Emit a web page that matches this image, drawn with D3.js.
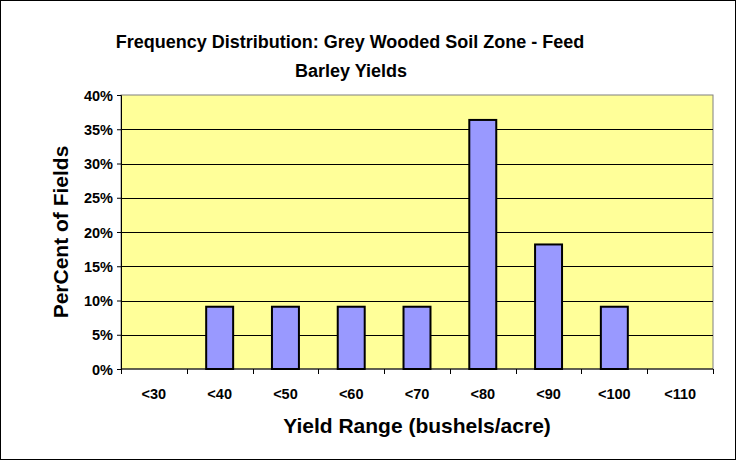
<!DOCTYPE html>
<html>
<head>
<meta charset="utf-8">
<script src="https://cdn.jsdelivr.net/npm/d3@7"></script>
<style>
  body { margin: 0; background: #fff; }
  text { font-family: Arial, "Liberation Sans", sans-serif; font-weight: bold; }
</style>
</head>
<body>
<script>
// chart data
const categories = ['<30', '<40', '<50', '<60', '<70', '<80', '<90', '<100', '<110'];
const percents = [0, 0.0909, 0.0909, 0.0909, 0.0909, 0.3636, 0.1818, 0.0909, 0];
const yTicks = [0, 0.05, 0.10, 0.15, 0.20, 0.25, 0.30, 0.35, 0.40];

const svgWidth = 736;
const svgHeight = 460;
const margin = {top: 95, right: 23, bottom: 91, left: 121};
const plotWidth = svgWidth - margin.left - margin.right;
const plotHeight = svgHeight - margin.top - margin.bottom;

const svg = d3.select('body')
              .append('svg')
              .attr('width', svgWidth)
              .attr('height', svgHeight);

// outer border
svg.append('rect')
   .attr('x', 0.5).attr('y', 0.5)
   .attr('width', svgWidth - 1).attr('height', svgHeight - 1)
   .attr('fill', 'white').attr('stroke', 'black');

const inner = svg.append('g')
                 .attr('transform', 'translate(' + margin.left + ',' + margin.top + ')');

// plot background
inner.append('rect')
     .attr('width', plotWidth)
     .attr('height', plotHeight)
     .attr('fill', '#FFFF99')
     .attr('stroke', '#808080');

const xScale = d3.scaleBand()
                 .domain(categories)
                 .range([0, plotWidth])
                 .paddingInner(0.59)
                 .paddingOuter(0.295);

const yScale = d3.scaleLinear()
                 .domain([0, 0.4])
                 .range([plotHeight, 0]);

// gridlines
inner.selectAll('line.grid')
     .data(yTicks.slice(1, -1))
     .enter()
     .append('line')
     .attr('class', 'grid')
     .attr('x1', 0).attr('x2', plotWidth)
     .attr('y1', d => Math.round(yScale(d)) + 0.5)
     .attr('y2', d => Math.round(yScale(d)) + 0.5)
     .attr('stroke', 'black');

// bars
inner.selectAll('rect.bar')
     .data(categories.map((c, i) => ({cat: c, val: percents[i]})).filter(d => d.val > 0))
     .enter()
     .append('rect')
     .attr('class', 'bar')
     .attr('x', d => xScale(d.cat))
     .attr('y', d => yScale(d.val))
     .attr('width', xScale.bandwidth())
     .attr('height', d => plotHeight - yScale(d.val))
     .attr('fill', '#9999FF')
     .attr('stroke', 'black')
     .attr('stroke-width', 2);

// y axis
const yAxis = d3.axisLeft(yScale)
                .tickValues(yTicks)
                .tickFormat(d3.format('.0%'))
                .tickSize(4)
                .tickPadding(4);
const yG = inner.append('g').call(yAxis);
yG.attr('font-size', 14.5).attr('font-family', null);
yG.select('.domain').attr('stroke', 'black');
yG.selectAll('text').attr('fill', 'black').attr('dy', '0.36em');

// x axis with ticks at category boundaries
const xG = inner.append('g')
                .attr('transform', 'translate(0,' + plotHeight + ')');
xG.append('line')
  .attr('x1', 0).attr('x2', plotWidth)
  .attr('stroke', 'black');
xG.selectAll('line.tick')
  .data(d3.range(categories.length + 1))
  .enter()
  .append('line')
  .attr('class', 'tick')
  .attr('x1', i => Math.round(i * xScale.step()) + 0.5)
  .attr('x2', i => Math.round(i * xScale.step()) + 0.5)
  .attr('y1', 0).attr('y2', 5)
  .attr('stroke', 'black');
xG.selectAll('text')
  .data(categories)
  .enter()
  .append('text')
  .attr('x', d => xScale(d) + xScale.bandwidth() / 2)
  .attr('y', 30)
  .attr('text-anchor', 'middle')
  .attr('font-size', 14.5)
  .text(d => d);

// title
svg.append('text')
   .attr('x', 350).attr('y', 48)
   .attr('text-anchor', 'middle')
   .attr('font-size', 18)
   .text('Frequency Distribution: Grey Wooded Soil Zone - Feed');
svg.append('text')
   .attr('x', 351).attr('y', 77)
   .attr('text-anchor', 'middle')
   .attr('font-size', 18)
   .text('Barley Yields');

// axis titles
svg.append('text')
   .attr('x', margin.left + plotWidth / 2).attr('y', 433)
   .attr('text-anchor', 'middle')
   .attr('font-size', 21)
   .text('Yield Range (bushels/acre)');
svg.append('text')
   .attr('transform', 'translate(68,' + (margin.top + plotHeight / 2) + ') rotate(-90)')
   .attr('text-anchor', 'middle')
   .attr('font-size', 21)
   .text('PerCent of Fields');
</script>
</body>
</html>
